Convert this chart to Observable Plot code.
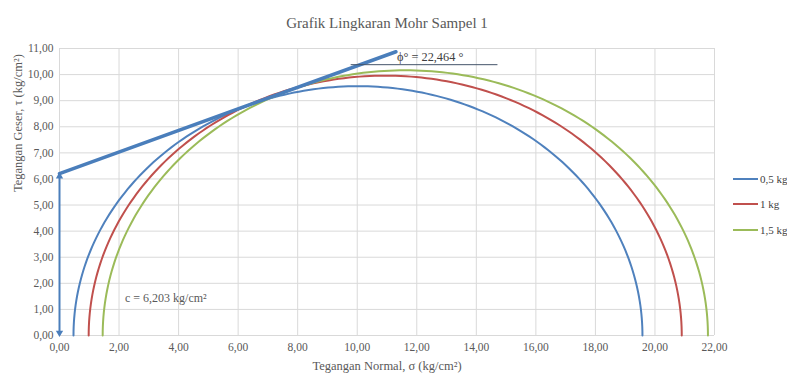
<!DOCTYPE html>
<html><head><meta charset="utf-8">
<script src="https://cdn.jsdelivr.net/npm/d3@7"></script>
<script src="https://cdn.jsdelivr.net/npm/@observablehq/plot@0.6"></script>
<style>
body{margin:0;background:#fff;font-family:"Liberation Serif","Times New Roman","DejaVu Serif",serif;}
#wrap{position:relative;width:787px;height:379px;overflow:hidden;}
#wrap svg, #wrap svg text{font-family:"Liberation Serif","Times New Roman","DejaVu Serif",serif !important;}
#legend{position:absolute;left:733px;top:166px;width:60px;font-size:11px;color:#404040;white-space:nowrap;}
#legend .row{display:flex;align-items:center;height:25.5px;white-space:nowrap;}
#legend .sw{display:inline-block;flex:none;width:25px;height:2px;margin-right:2px;}
</style></head><body><div id="wrap"></div>
<script>
const series = ["0,5 kg", "1 kg", "1,5 kg"];
const sigma3 = [0.47, 0.98, 1.45];
const sigma1 = [19.58, 20.9, 21.78];
const colors = ["#4F81BD", "#C0504D", "#9BBB59"];
const cohesion = 6.203;
const phiDeg = 22.464;
const envelopeEndX = 11.3;
const xTicks = [0, 2, 4, 6, 8, 10, 12, 14, 16, 18, 20, 22];
const yTicks = [0, 1, 2, 3, 4, 5, 6, 7, 8, 9, 10, 11];
const title = "Grafik Lingkaran Mohr Sampel 1";
const xLabel = "Tegangan Normal, σ (kg/cm²)";
const yLabel = "Tegangan Geser, τ (kg/cm²)";
const phiLabel = "ϕ° = 22,464 °";
const cLabel = "c = 6,203 kg/cm²";

const fmt = d => d.toFixed(2).replace(".", ",");

// semicircle points for each Mohr circle from its sigma3/sigma1
const circles = [];
series.forEach((s, i) => {
  const c = (sigma1[i] + sigma3[i]) / 2, r = (sigma1[i] - sigma3[i]) / 2;
  for (let k = 0; k <= 180; k++) {
    const t = Math.PI * k / 180;
    circles.push({series: s, x: c + r * Math.cos(t), y: r * Math.sin(t)});
  }
});
const tanPhi = Math.tan(phiDeg * Math.PI / 180);
const envelope = [{x: 0, y: cohesion}, {x: envelopeEndX, y: cohesion + tanPhi * envelopeEndX}];

const serif = "Liberation Serif, Times New Roman, DejaVu Serif, serif";
const plot = Plot.plot({
  width: 787, height: 379,
  marginTop: 48, marginBottom: 44, marginLeft: 59, marginRight: 73,
  style: {fontFamily: serif, fontSize: "11.5px", color: "#595959", background: "#fff"},
  x: {domain: [0, 22]},
  y: {domain: [0, 11]},
  color: {domain: series, range: colors},
  marks: [
    Plot.gridX(xTicks, {stroke: "#d9d9d9", strokeOpacity: 1}),
    Plot.gridY(yTicks, {stroke: "#d9d9d9", strokeOpacity: 1}),
    Plot.axisX(xTicks, {tickSize: 0, tickPadding: 7, tickFormat: fmt, fill: "#595959", fontSize: 11.5, label: null}),
    Plot.axisY(yTicks, {tickSize: 0, tickPadding: 6, tickFormat: fmt, fill: "#595959", fontSize: 11.5, label: null}),
    Plot.text([xLabel], {frameAnchor: "bottom", dy: 34, fontSize: 12.5, fill: "#595959"}),
    Plot.text([yLabel], {frameAnchor: "left", dx: -42, rotate: -90, fontSize: 12.5, fill: "#595959"}),
    Plot.line(circles, {x: "x", y: "y", z: "series", stroke: "series", strokeWidth: 2}),
    Plot.line(envelope, {x: "x", y: "y", stroke: "#4A7EBB", strokeWidth: 3.5}),
    Plot.link([0], {x1: 0, x2: 0, y1: 0.12, y2: cohesion - 0.12, stroke: "#4A7EBB", strokeWidth: 2}),
    Plot.dot([{x: 0, y: cohesion - 0.1, r: 0}, {x: 0, y: 0.1, r: 180}], {x: "x", y: "y", rotate: "r", symbol: "triangle2", r: 3.5, fill: "#4A7EBB", stroke: "none"}),
    Plot.link([0], {x1: 9.78, x2: 14.71, y1: 10.38, y2: 10.38, stroke: "#44546A", strokeWidth: 1}),
    Plot.text([phiLabel], {x: 12.45, y: 10.68, fontSize: 12.3, fill: "#404040"}),
    Plot.text([cLabel], {x: 2.2, y: 1.42, textAnchor: "start", fontSize: 12, fill: "#595959"}),
    Plot.text([title], {frameAnchor: "top", dy: -31, fontSize: 15, fill: "#595959"})
  ]
});
const wrap = document.getElementById("wrap");
wrap.appendChild(plot);
const legend = document.createElement("div");
legend.id = "legend";
series.forEach((s, i) => {
  const row = document.createElement("div");
  row.className = "row";
  const sw = document.createElement("span");
  sw.className = "sw";
  sw.style.background = colors[i];
  const t = document.createElement("span");
  t.textContent = s;
  row.appendChild(sw); row.appendChild(t);
  legend.appendChild(row);
});
wrap.appendChild(legend);
</script></body></html>
